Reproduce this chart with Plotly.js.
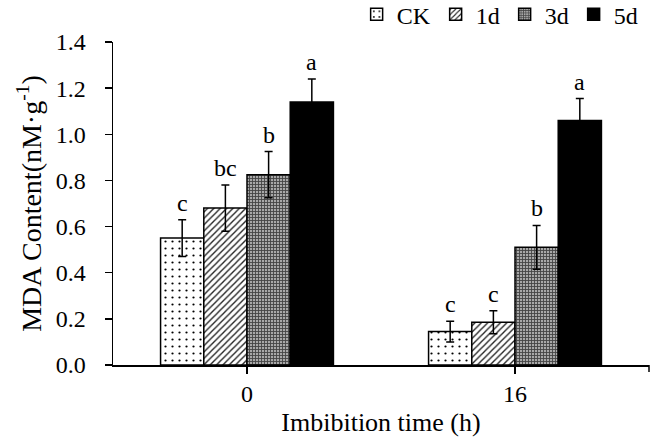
<!DOCTYPE html>
<html>
<head>
<meta charset="utf-8">
<script src="https://cdn.plot.ly/plotly-3.0.1.min.js"></script>
<style>html,body{margin:0;padding:0;background:#fff;}#chart{width:654px;height:446px;}</style>
</head>
<body>
<div id="chart"></div>
<script>
// ---- data ----
var categories = ['0', '16'];
var seriesNames = ['CK', '1d', '3d', '5d'];
var valuesCK = [0.55, 0.145];
var values1d = [0.68, 0.185];
var values3d = [0.825, 0.51];
var values5d = [1.14, 1.06];
var errCK = [0.08, 0.045];
var err1d = [0.10, 0.05];
var err3d = [0.10, 0.095];
var err5d = [0.10, 0.095];
var lettersCK = ['c', 'c'];
var letters1d = ['bc', 'c'];
var letters3d = ['b', 'b'];
var letters5d = ['a', 'a'];

var FONT = 'Liberation Serif, Times New Roman, serif';
var values = [valuesCK, values1d, values3d, values5d];
var errs = [errCK, err1d, err3d, err5d];
var letters = [lettersCK, letters1d, letters3d, letters5d];
var markers = [
  {color: '#ffffff', line: {color: '#000', width: 1.5}, pattern: {shape: '.', size: 7, solidity: 0.08, fgcolor: '#000', bgcolor: '#ffffff', fillmode: 'replace'}},
  {color: '#ffffff', line: {color: '#000', width: 1.5}, pattern: {shape: '/', size: 4.5, solidity: 0.3, fgcolor: '#222', bgcolor: '#ffffff', fillmode: 'replace'}},
  {color: '#ffffff', line: {color: '#000', width: 1.5}, pattern: {shape: '+', size: 3, solidity: 0.5, fgcolor: '#444', bgcolor: '#a8a8a8', fillmode: 'replace'}},
  {color: '#000000', line: {color: '#000', width: 1.5}}
];

var traces = seriesNames.map(function (name, i) {
  return {
    type: 'bar', name: name, x: categories, y: values[i],
    marker: markers[i],
    error_y: {type: 'data', array: errs[i], visible: true, color: '#000', thickness: 1.5, width: 4}
  };
});

var barPx = 43;
var annotations = [];
seriesNames.forEach(function (name, i) {
  categories.forEach(function (c, j) {
    annotations.push({
      x: j, y: values[i][j] + errs[i][j], xref: 'x', yref: 'y',
      text: letters[i][j], showarrow: false,
      xshift: (i - 1.5) * barPx, yshift: 17,
      font: {family: FONT, size: 24, color: '#000'}
    });
  });
});

var layout = {
  width: 654, height: 446,
  margin: {l: 113, r: 5, t: 42, b: 81, autoexpand: false},
  paper_bgcolor: '#fff', plot_bgcolor: '#fff',
  font: {family: FONT, size: 22, color: '#000'},
  barmode: 'group', bargap: 0.355, bargroupgap: 0,
  showlegend: true,
  legend: {orientation: 'h', x: 0.99, xanchor: 'right', y: 1.085, yref: 'paper', yanchor: 'middle',
           font: {family: FONT, size: 24}, itemwidth: 30, traceorder: 'normal', tracegroupgap: 0},
  xaxis: {
    type: 'category', categoryorder: 'array', categoryarray: categories,
    range: [-0.5, 1.5], showline: true, linecolor: '#000', linewidth: 1.5,
    ticks: 'outside', ticklen: 7, tickcolor: '#000', tickwidth: 1.5,
    tickfont: {family: FONT, size: 24}, showgrid: false, zeroline: false,
    title: {text: 'Imbibition time (h)', font: {family: FONT, size: 26}, standoff: 6}
  },
  yaxis: {
    range: [0, 1.4], dtick: 0.2, tick0: 0, tickformat: '.1f',
    showline: true, linecolor: '#000', linewidth: 1.5,
    ticks: 'outside', ticklen: 7, tickcolor: '#000', tickwidth: 1.5,
    tickfont: {family: FONT, size: 24}, showgrid: false, zeroline: false,
    ticklabelstandoff: 14,
    title: {text: 'MDA Content(nM·g<sup>-1</sup>)', font: {family: FONT, size: 28}, standoff: 6}
  },
  shapes: [
    {type: 'line', xref: 'paper', yref: 'paper', x0: 1, x1: 1, y0: 0, y1: -0.022,
     line: {color: '#000', width: 1.5}}
  ],
  annotations: annotations
};

Plotly.newPlot('chart', traces, layout, {displayModeBar: false, staticPlot: true});
</script>
</body>
</html>
